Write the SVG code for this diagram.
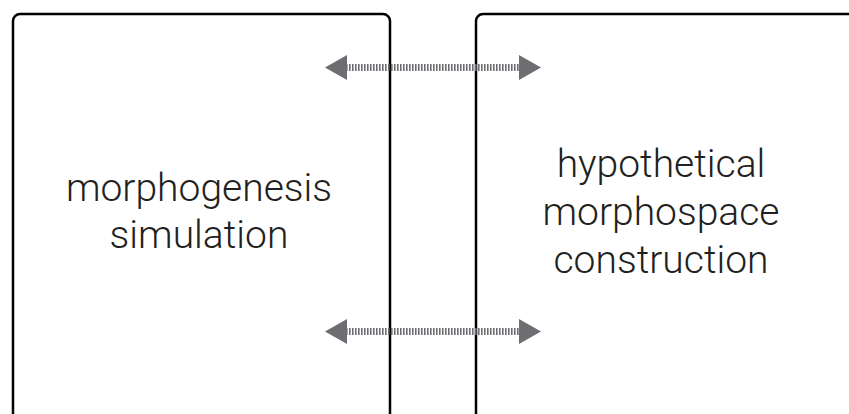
<svg xmlns="http://www.w3.org/2000/svg" width="849" height="414" viewBox="0 0 849 414">
  <style>
    .box { fill: none; stroke: #000; stroke-width: 2.5; }
    .label { font-family: Roboto, "Liberation Sans", Arial, sans-serif; font-weight: 300; font-size: 39px; fill: #231f20; text-anchor: middle; }
    .shaft { stroke: #6d6e71; stroke-width: 7; stroke-dasharray: 1.6 1.4; fill: none; }
    .head { fill: #6d6e71; }
  </style>
  <rect width="849" height="414" fill="#fff"/>

  <g id="morphogenesis-simulation">
    <rect class="box" x="13" y="14" width="377" height="430" rx="7"/>
    <text class="label" x="199" y="201">morphogenesis</text>
    <text class="label" x="199" y="248">simulation</text>
  </g>

  <g id="hypothetical-morphospace-construction">
    <rect class="box" x="476" y="14" width="400" height="430" rx="7"/>
    <text class="label" x="661" y="177">hypothetical</text>
    <text class="label" x="661" y="225">morphospace</text>
    <text class="label" x="661" y="273">construction</text>
  </g>

  <g id="connectors">
    <g id="link-top">
      <line class="shaft" x1="346" y1="67.5" x2="520" y2="67.5"/>
      <polygon class="head" points="325,67.5 347,55 347,80"/>
      <polygon class="head" points="541,67.5 519,55 519,80"/>
    </g>
    <g id="link-bottom">
      <line class="shaft" x1="346" y1="331.5" x2="520" y2="331.5"/>
      <polygon class="head" points="325,331.5 347,319 347,344"/>
      <polygon class="head" points="541,331.5 519,319 519,344"/>
    </g>
  </g>
</svg>
